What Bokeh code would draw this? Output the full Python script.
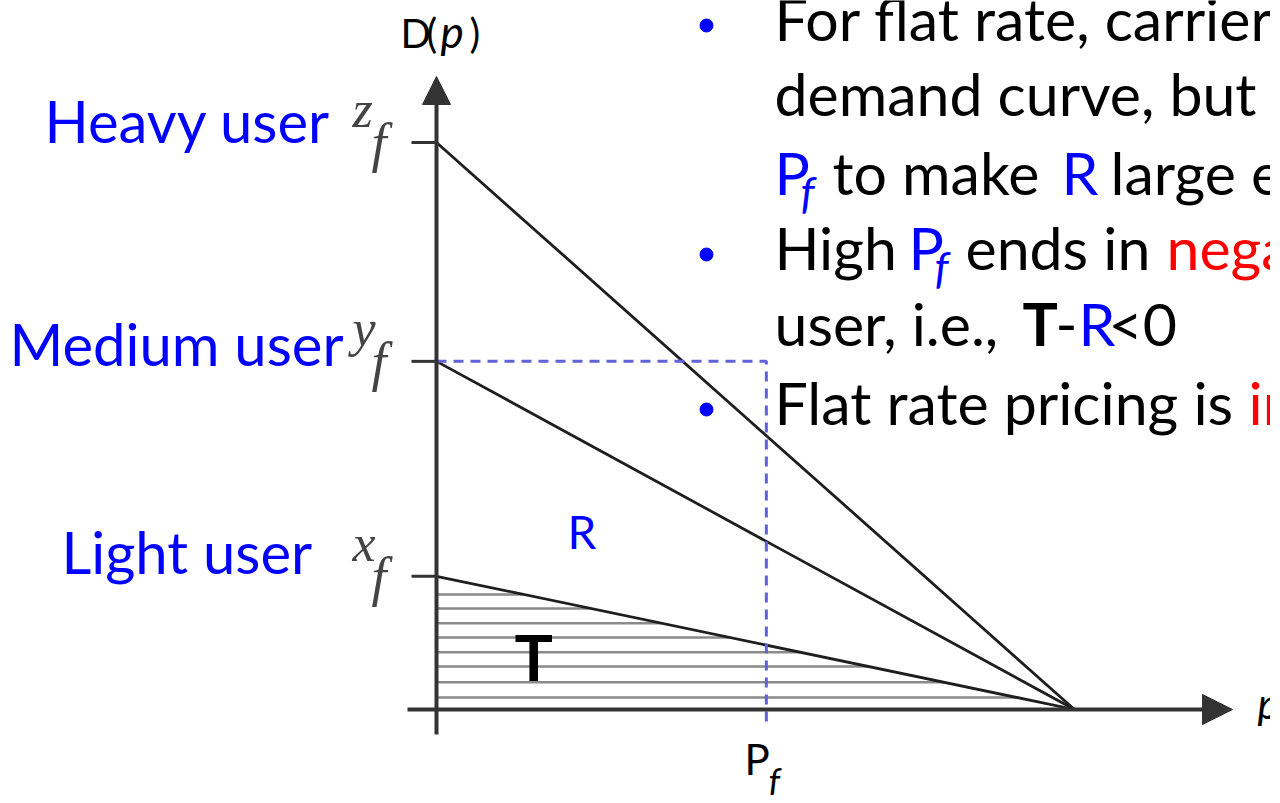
from bokeh.plotting import figure
from bokeh.models import Range1d, Label, Arrow, NormalHead
from bokeh.embed import file_html
from bokeh.resources import INLINE

# ---------------- data ----------------
users = ["Heavy user", "Medium user", "Light user"]
intercept_symbols = ["z", "y", "x"]
intercepts = [10.0, 6.14, 2.35]      # D(0) of each user's demand line
choke_price = 10.0                   # price where every demand line reaches 0
flat_price = 5.17                    # P_f
hatch_levels = [0.21, 0.48, 0.76, 1.01, 1.27, 1.52, 1.78, 2.03]

# ---------------- layout helpers ----------------
W, H = 1270, 795
OFF = 1                   # where the canvas lands on the page
OX, OY = 437.0, 710.0     # page pixel of the origin
SX, SY = 63.8, 56.7       # pixels per unit


def dx(px):
    return (px - OX) / SX


def dy(py):
    return (OY - py) / SY


p = figure(width=W, height=H, output_backend="svg", toolbar_location=None,
           x_range=Range1d(dx(OFF), dx(OFF + W)),
           y_range=Range1d(dy(OFF + H), dy(OFF)),
           min_border=0, outline_line_color=None,
           background_fill_color="white", border_fill_color="white")
p.axis.visible = False
p.grid.visible = False

AX = "#333333"
SANS = "Lato"
BLUE = "#0000ff"
RED = "#ff0000"

# hatch of area T under the light user's line
light = intercepts[2]
p.segment(x0=[0] * len(hatch_levels), y0=hatch_levels,
          x1=[choke_price * (1 - h / light) for h in hatch_levels], y1=hatch_levels,
          line_color="#8a8a8a", line_width=2.5)

# demand lines
p.segment(x0=[0] * 3, y0=intercepts, x1=[choke_price] * 3, y1=[0] * 3,
          line_color="#1e1e1e", line_width=2.8)

# tick marks at the intercepts
p.segment(x0=[dx(412)] * 3, y0=intercepts, x1=[0] * 3, y1=intercepts,
          line_color=AX, line_width=3)

# dashed flat price guide
p.line([0, flat_price, flat_price], [intercepts[1], intercepts[1], dy(728)],
       line_color="#6262d8", line_width=3, line_dash="10 7")

# axes with arrows
p.add_layout(Arrow(end=NormalHead(size=30, fill_color=AX, line_color=AX),
                   x_start=dx(408), y_start=0, x_end=dx(1233), y_end=0,
                   line_color=AX, line_width=4))
p.add_layout(Arrow(end=NormalHead(size=28, fill_color=AX, line_color=AX),
                   x_start=0, y_start=dy(735), x_end=0, y_end=dy(77),
                   line_color=AX, line_width=4))


def lab(x, y, text, size, color="black", font=SANS, style="normal"):
    # y is the wanted alphabetic baseline; correct for the renderer's offset
    p.add_layout(Label(x=x, y=y + 0.4 * size / SY, text=text, text_font=font,
                       text_font_size=f"{size}px", text_color=color,
                       text_font_style=style, text_align="left",
                       text_baseline="alphabetic"))


# intercept symbols  z_f, y_f, x_f
for sym, a in zip(intercept_symbols, intercepts):
    lab(dx(353), a + 12 / SY, sym, 52, "#444444", "Liberation Serif", "italic")
    lab(dx(372), a - 22 / SY, "f", 54, "#444444", "Liberation Serif", "italic")

# user labels
user_pos = [(45, 144), (10, 367), (62, 575)]
for name, (lx, ly) in zip(users, user_pos):
    lab(dx(lx), dy(ly), name, 58, BLUE)

# axis titles
lab(dx(401), dy(49), "D", 40)
lab(dx(427), dy(49), "(", 40)
lab(dx(441), dy(49), "p", 44, style="italic")
lab(dx(470), dy(49), ")", 40)
lab(dx(1258), dy(720), "p", 42, style="italic")
lab(dx(745), dy(776), "P", 42)
lab(dx(769), dy(796), "f", 36, style="italic")

# area labels
lab(dx(568), dy(550), "R", 46, BLUE)
lab(dx(515), dy(683), "T", 64, style="bold")

# bullet text
FS = 59
lab(dx(775), dy(43), "For flat rate, carrier", FS)
lab(dx(775), dy(118), "demand curve, but", FS)
lab(dx(775), dy(197), "P", FS, BLUE)
lab(dx(801), dy(210), "f", 44, BLUE, style="italic")
lab(dx(833), dy(197), "to make", FS)
lab(dx(1062), dy(197), "R", FS, BLUE)
lab(dx(1111), dy(197), "large e", FS)
lab(dx(775), dy(272), "High", FS)
lab(dx(909), dy(272), "P", FS, BLUE)
lab(dx(935), dy(285), "f", 44, BLUE, style="italic")
lab(dx(966), dy(272), "ends in", FS)
lab(dx(1167), dy(272), "nega", FS, RED)
lab(dx(775), dy(348), "user, i.e.,", FS)
lab(dx(1023), dy(348), "T", FS, style="bold")
lab(dx(1056), dy(348), "-", FS)
lab(dx(1079), dy(348), "R", FS, BLUE)
lab(dx(1109), dy(348), "<0", FS)
lab(dx(775), dy(427), "Flat rate pricing is", FS)
lab(dx(1249), dy(427), "in", FS, RED)

bullet_baselines = [43, 272, 427]
p.scatter(x=[dx(707)] * 3, y=[dy(b - 17) for b in bullet_baselines],
          size=13, color=BLUE)

open("out.html", "w").write(file_html(p, INLINE))
